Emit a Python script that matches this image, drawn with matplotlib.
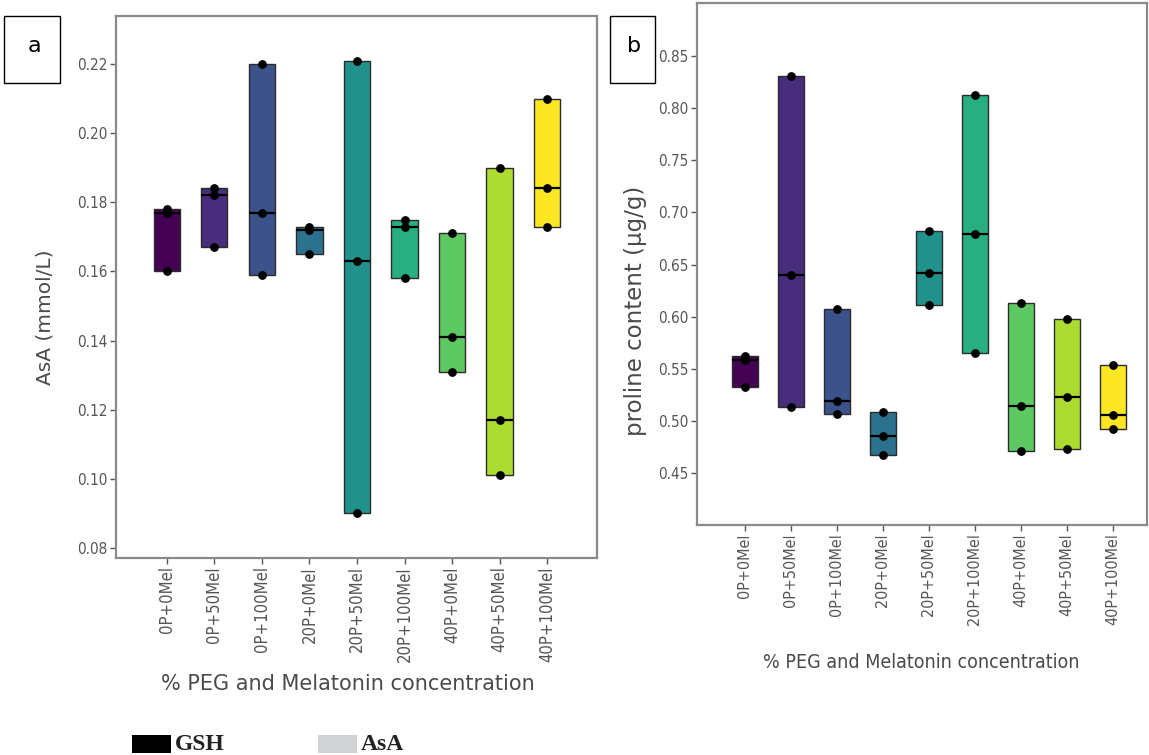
import numpy as np
import matplotlib
matplotlib.use("Agg")
import matplotlib.pyplot as plt
import matplotlib.patches as mpatches

# treatment groups (same for both panels)
groups = ['0P+0Mel', '0P+50Mel', '0P+100Mel', '20P+0Mel', '20P+50Mel',
          '20P+100Mel', '40P+0Mel', '40P+50Mel', '40P+100Mel']

# panel a: AsA (mmol/L), three replicates per group (low / middle / high)
asa_low = [0.160, 0.167, 0.159, 0.165, 0.090, 0.158, 0.131, 0.101, 0.173]
asa_mid = [0.177, 0.182, 0.177, 0.172, 0.163, 0.173, 0.141, 0.117, 0.184]
asa_high = [0.178, 0.184, 0.220, 0.173, 0.221, 0.175, 0.171, 0.190, 0.210]
asa_ticks = [0.08, 0.10, 0.12, 0.14, 0.16, 0.18, 0.20, 0.22]

# panel b: proline content (ug/g)
pro_low = [0.532, 0.513, 0.507, 0.467, 0.611, 0.565, 0.471, 0.473, 0.492]
pro_mid = [0.558, 0.640, 0.519, 0.485, 0.642, 0.679, 0.514, 0.523, 0.506]
pro_high = [0.562, 0.831, 0.607, 0.508, 0.682, 0.813, 0.613, 0.598, 0.554]
pro_ticks = [0.45, 0.50, 0.55, 0.60, 0.65, 0.70, 0.75, 0.80, 0.85]

legend_names = ['GSH', 'AsA']
legend_colors = ['black', '#d1d2d4']

W, H = 1149, 755
fig = plt.figure(figsize=(W / 100, H / 100), dpi=100)


def fx(x):
    return x / W


def fy(y):
    return 1 - y / H


colors = plt.cm.viridis(np.linspace(0, 1, len(groups)))
TXT = '#4a4a4a'


def draw_panel(ax, low, mid, high, yticks, xsize):
    low, mid, high = np.array(low), np.array(mid), np.array(high)
    x = np.arange(1, len(groups) + 1)
    w = 0.55
    ax.bar(x, high - low, bottom=low, width=w, color=colors,
           edgecolor='#2b2b2b', linewidth=1, zorder=2)
    ax.hlines(mid, x - w / 2, x + w / 2, colors='black', lw=1.6, zorder=3)
    for vals in (low, mid, high):
        ax.scatter(x, vals, s=28, color='black', zorder=4)
    ax.set_xticks(x)
    ax.set_xticklabels(groups, rotation=90)
    ax.set_yticks(yticks)
    ax.set_yticklabels(['{:.2f}'.format(t) for t in yticks])
    ax.tick_params(length=4, width=1, color='#555555', labelcolor='#555555',
                   labelsize=11, pad=2)
    ax.tick_params(axis='x', labelsize=xsize)
    for lbl in ax.get_xticklabels() + ax.get_yticklabels():
        lbl.set_fontstretch('condensed')
    for sp in ax.spines.values():
        sp.set_color('#8a8a8a')
        sp.set_linewidth(1.6)


# ---- panel a
ax_a = fig.add_axes([fx(116), fy(558), fx(597) - fx(116), fy(16) - fy(558)])
draw_panel(ax_a, asa_low, asa_mid, asa_high, asa_ticks, 12)
ax_a.set_xlim(-0.07, 10.05)
ax_a.set_ylim(0.0771, 0.2339)
ax_a.set_ylabel('AsA (mmol/L)', fontsize=14.5, color=TXT)
ax_a.yaxis.set_label_coords(-0.127, 0.445)
ax_a.set_xlabel('% PEG and Melatonin concentration', fontsize=15, color=TXT)
ax_a.xaxis.set_label_coords(0.482, -0.214)

# ---- panel b
ax_b = fig.add_axes([fx(697), fy(525), fx(1147) - fx(697), fy(3) - fy(525)])
draw_panel(ax_b, pro_low, pro_mid, pro_high, pro_ticks, 11.5)
ax_b.set_xlim(-0.04, 9.74)
ax_b.set_ylim(0.40, 0.901)
ax_b.set_ylabel('proline content (\u00b5g/g)', fontsize=16.5, color=TXT)
ax_b.yaxis.set_label_coords(-0.111, 0.41)
ax_b.set_xlabel('% PEG and Melatonin concentration', fontsize=14,
                color=TXT, fontstretch='condensed')
ax_b.xaxis.set_label_coords(0.498, -0.245)

# ---- panel letters in boxes
for (x0, y0, x1, y1), letter in [((4, 16, 60, 83), 'a'), ((610, 16, 655, 83), 'b')]:
    fig.add_artist(mpatches.Rectangle((fx(x0), fy(y1)), fx(x1) - fx(x0),
                                      fy(y0) - fy(y1), transform=fig.transFigure,
                                      facecolor='white', edgecolor='black', lw=1))
    fig.text(fx((x0 + x1) / 2 + 2), fy((y0 + y1) / 2 - 3), letter,
             ha='center', va='center', fontsize=16, color='black')

# ---- legend at bottom
for xs, name, col in zip([132, 318], legend_names, legend_colors):
    fig.add_artist(mpatches.Rectangle((fx(xs), fy(753)), fx(39), 18 / H,
                                      transform=fig.transFigure,
                                      facecolor=col, edgecolor='none'))
    fig.text(fx(xs + 43), fy(744), name, ha='left', va='center',
             fontsize=17, fontweight='bold', family='Liberation Serif',
             color='#222222')

fig.savefig('out.png', dpi=100, facecolor='white')
